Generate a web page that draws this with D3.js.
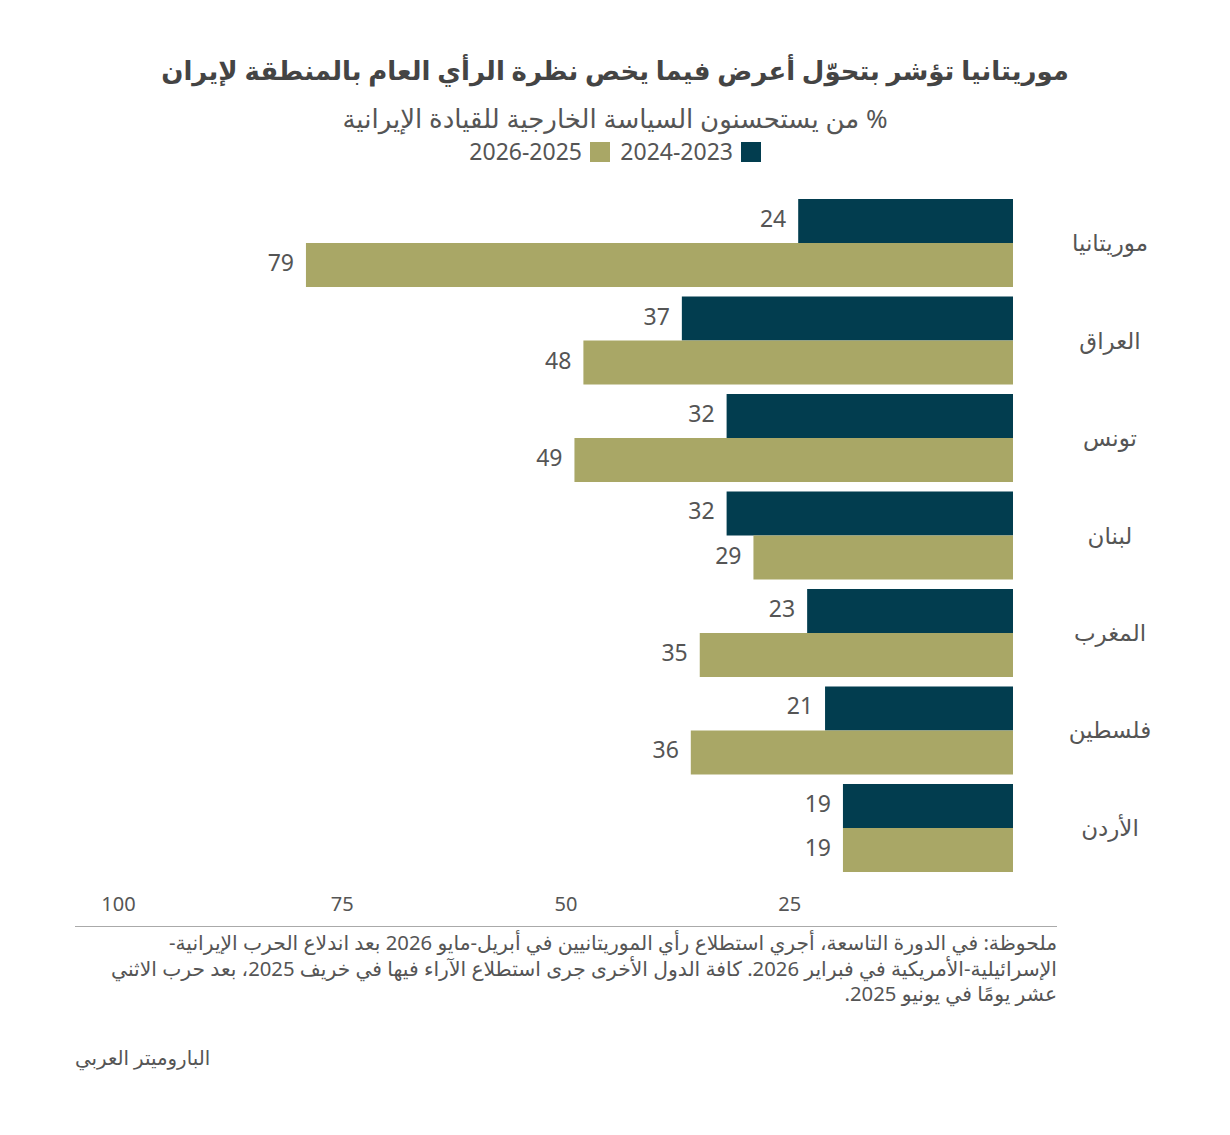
<!DOCTYPE html>
<html><head><meta charset="utf-8">
<script src="https://cdn.jsdelivr.net/npm/d3@7"></script>
<style>
body{margin:0;background:#fff;}
text{font-family:"Noto Sans","DejaVu Sans",sans-serif;}
</style></head><body>
<svg id="c" width="1230" height="1135"></svg>
<script>
const categories = ["موريتانيا","العراق","تونس","لبنان","المغرب","فلسطين","الأردن"];
const series = ["2024-2023","2026-2025"];
const values2023 = [24,37,32,32,23,21,19];
const values2025 = [79,48,49,29,35,36,19];
const ticks = [100,75,50,25];
const colors = ["#023d4f","#a9a766"];
const title = "موريتانيا تؤشر بتحوّل أعرض فيما يخص نظرة الرأي العام بالمنطقة لإيران";
const subtitle = "% من يستحسنون السياسة الخارجية للقيادة الإيرانية";
const noteLines = ["ملحوظة: في الدورة التاسعة، أجري استطلاع رأي الموريتانيين في أبريل-مايو 2026 بعد اندلاع الحرب الإيرانية-",
"الإسرائيلية-الأمريكية في فبراير 2026. كافة الدول الأخرى جرى استطلاع الآراء فيها في خريف 2025، بعد حرب الاثني",
"عشر يومًا في يونيو 2025."];
const source = "الباروميتر العربي";

const svg = d3.select("#c");
const grey = "#555";

svg.append("text").attr("x",615).attr("y",80).attr("text-anchor","middle")
  .attr("font-size",26).attr("font-weight","bold").attr("fill","#444").attr("direction","rtl").text(title);
svg.append("text").attr("x",615).attr("y",128).attr("text-anchor","middle")
  .attr("font-size",26).attr("fill",grey).attr("direction","rtl").text(subtitle);

// legend
const lg = svg.append("g");
lg.append("rect").attr("x",741).attr("y",142).attr("width",20).attr("height",20).attr("fill",colors[0]);
lg.append("text").attr("x",733).attr("y",160).attr("text-anchor","end").attr("font-size",23).attr("fill",grey).text(series[0]);
lg.append("rect").attr("x",590).attr("y",142).attr("width",20).attr("height",20).attr("fill",colors[1]);
lg.append("text").attr("x",582).attr("y",160).attr("text-anchor","end").attr("font-size",23).attr("fill",grey).text(series[1]);

const x = d3.scaleLinear().domain([0,100]).range([1013,118]);
const y = d3.scaleBand().domain(categories).range([199,872]).paddingInner(0.0974).paddingOuter(0);
const yi = d3.scaleBand().domain([0,1]).range([0,y.bandwidth()]);

const data = categories.map((c,i)=>({c, v:[values2023[i],values2025[i]]}));
const g = svg.append("g");
data.forEach(d=>{
  d.v.forEach((v,k)=>{
    const yy = y(d.c)+yi(k);
    g.append("rect").attr("x",x(v)).attr("y",yy).attr("width",x(0)-x(v)).attr("height",yi.bandwidth()).attr("fill",colors[k]);
    g.append("text").attr("x",x(v)-12).attr("y",yy+yi.bandwidth()/2+6).attr("text-anchor","end")
      .attr("font-size",23).attr("fill",grey).text(v);
  });
  g.append("text").attr("x",1110).attr("y",y(d.c)+y.bandwidth()/2+8).attr("text-anchor","middle")
    .attr("font-size",23).attr("fill",grey).attr("direction","rtl").text(d.c);
});

// axis
const ax = svg.append("g").attr("transform","translate(0,911)")
  .call(d3.axisBottom(x).tickValues(ticks).tickSize(0).tickPadding(0));
ax.select(".domain").remove();
ax.selectAll("text").attr("font-size",20).attr("fill",grey).attr("dy","0");
svg.append("line").attr("x1",75).attr("x2",1057).attr("y1",926.5).attr("y2",926.5).attr("stroke","#aaa").attr("stroke-width",1);

noteLines.forEach((t,i)=>{
  svg.append("text").attr("x",1057).attr("y",950+i*25.5).attr("text-anchor","start")
    .attr("font-size",20.3).attr("fill",grey).attr("direction","rtl").text(t);
});
svg.append("text").attr("x",75).attr("y",1065)
  .attr("font-size",19.8).attr("fill",grey).attr("direction","rtl").attr("text-anchor","end").text(source);
</script></body></html>
